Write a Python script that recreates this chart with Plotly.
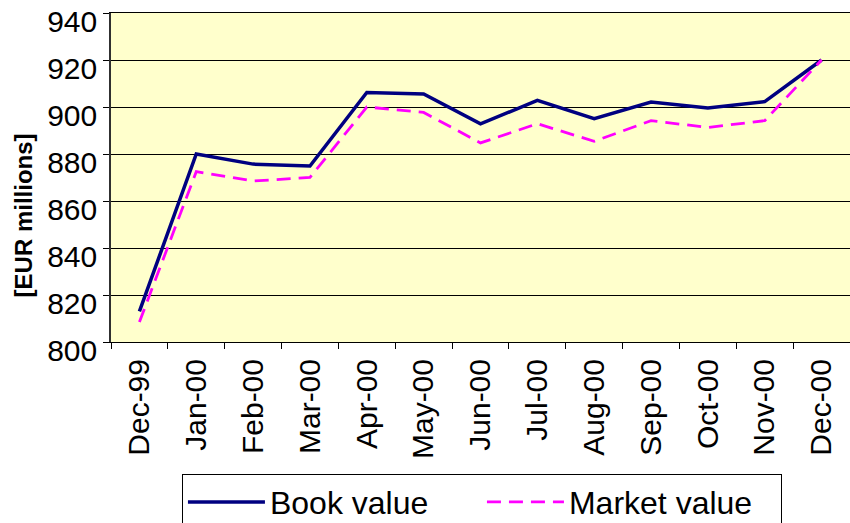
import plotly.graph_objects as go

months = ["Dec-99", "Jan-00", "Feb-00", "Mar-00", "Apr-00", "May-00", "Jun-00",
          "Jul-00", "Aug-00", "Sep-00", "Oct-00", "Nov-00", "Dec-00"]
book_value = [813, 880, 875.7, 874.9, 906.2, 905.5, 892.8, 902.8, 895, 902.1, 899.6, 902.3, 920]
market_value = [808.5, 872.5, 868.5, 870, 900, 897.7, 884.7, 892.9, 885.4, 894.2, 891.3, 894.2, 920]
y_ticks = [800, 820, 840, 860, 880, 900, 920, 940]
y_title = "[EUR millions]"

font_family = "Liberation Sans, Arial, sans-serif"

fig = go.Figure()
fig.add_trace(go.Scatter(x=months, y=book_value, name="Book value", mode="lines",
                         line=dict(color="#000080", width=3.5)))
fig.add_trace(go.Scatter(x=months, y=market_value, name="Market value", mode="lines",
                         line=dict(color="#FF00FF", width=2.8, dash="14px,8px")))

fig.add_annotation(text="<b>" + y_title + "</b>", xref="paper", yref="paper",
                   x=-0.119, y=0.385, xanchor="center", yanchor="middle",
                   textangle=-90, showarrow=False, font=dict(size=24))

fig.update_layout(
    width=850, height=523,
    margin=dict(l=111, r=0, t=13, b=181, autoexpand=False),
    paper_bgcolor="white",
    plot_bgcolor="#FFFFCC",
    font=dict(family=font_family, color="black", size=29),
    showlegend=True,
    legend=dict(orientation="h", x=0.096, xanchor="left", y=-0.40, yanchor="top",
                bordercolor="#000000", borderwidth=1, bgcolor="white",
                font=dict(size=32), entrywidth=207, itemwidth=77,
                tracegroupgap=0),
    xaxis=dict(
        type="category", range=[-0.5, 12.5], tickangle=-90, tickson="boundaries",
        ticks="outside", ticklen=6, tickcolor="#000000",
        showline=True, linecolor="#000000", linewidth=1, mirror=True,
        showgrid=False, tickfont=dict(size=30), automargin=False,
        ticklabelstandoff=4,
    ),
    yaxis=dict(
        range=[800, 940], tickvals=y_ticks, ticks="outside", ticklen=6,
        tickcolor="#000000", showline=True, linecolor="#303030", linewidth=1.5,
        mirror=True, showgrid=True, gridcolor="#000000", gridwidth=1,
        tickfont=dict(size=30), automargin=False, ticklabelshift=8,
        ticklabeloverflow="allow",
    ),
)

fig.write_html("out.html", config={"displayModeBar": False},
               post_script="document.body.style.margin='0';")
